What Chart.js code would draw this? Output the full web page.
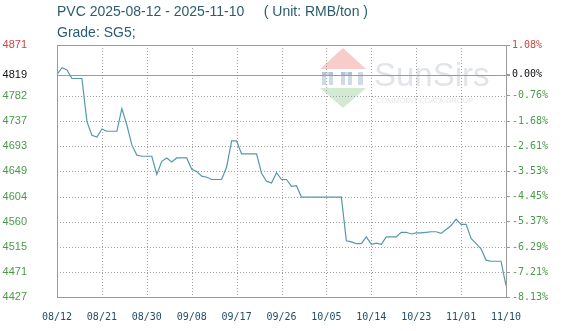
<!DOCTYPE html>
<html>
<head>
<meta charset="utf-8">
<script src="https://cdn.jsdelivr.net/npm/chart.js@4.4.1/dist/chart.umd.min.js"></script>
<style>
  html, body { margin: 0; padding: 0; background: #fff; }
  #wrap { position: relative; width: 572px; height: 331px; }
  .title { position: absolute; left: 57px; font-family: "Liberation Sans", Arial, sans-serif; font-size: 14px; color: #2b5d6e; white-space: pre; }
  #t1 { top: 3px; }
  #t2 { top: 24px; }
  canvas { position: absolute; left: 0; top: 0; }
</style>
</head>
<body>
<div id="wrap">
  <canvas id="chart" width="572" height="331"></canvas>
  <div class="title" id="t1">PVC 2025-08-12 - 2025-11-10     ( Unit: RMB/ton )</div>
  <div class="title" id="t2">Grade: SG5;</div>
</div>
<script>
// daily prices, 08/12 .. 11/10 (RMB/ton)
const prices = [
  4819, 4831, 4827, 4812, 4812, 4812, 4736, 4712, 4709, 4723,
  4719, 4719, 4719, 4759, 4730, 4695, 4677, 4675, 4675, 4675,
  4643, 4666, 4672, 4665, 4672, 4672, 4672, 4652, 4648, 4640,
  4638, 4634, 4634, 4634, 4656, 4702, 4702, 4679, 4679, 4679,
  4679, 4645, 4631, 4628, 4646, 4634, 4634, 4622, 4623, 4603,
  4603, 4603, 4603, 4603, 4603, 4603, 4603, 4603, 4526, 4524,
  4521, 4521, 4533, 4520, 4522, 4520, 4533, 4533, 4533, 4541,
  4541, 4538, 4540, 4540, 4541, 4542, 4542, 4539, 4546, 4553,
  4564, 4555, 4555, 4530, 4521, 4512, 4492, 4490, 4490, 4490,
  4447
];
const basePrice = 4819;
const yTicks = [4427, 4471, 4515, 4560, 4604, 4649, 4693, 4737, 4782, 4819, 4871];
const pctLabels = ['-8.13%', '-7.21%', '-6.29%', '-5.37%', '-4.45%', '-3.53%', '-2.61%', '-1.68%', '-0.76%', '0.00%', '1.08%'];
const xTickLabels = ['08/12', '08/21', '08/30', '09/08', '09/17', '09/26', '10/05', '10/14', '10/23', '11/01', '11/10'];

// one category per day
const labels = [];
const d0 = new Date(2025, 7, 12);
for (let i = 0; i < prices.length; i++) {
    const d = new Date(d0.getTime() + i * 86400000);
    labels.push(String(d.getMonth() + 1).padStart(2, '0') + '/' + String(d.getDate()).padStart(2, '0'));
}

function tickColor(v) {
    if (v > basePrice) return '#d04444';
    if (v === basePrice) return '#111';
    return '#4a9a4a';
}

// dotted grid lines, one pixel column/row at a time
function dottedV(ctx, x, y0, y1) {
    for (let y = Math.round(y0); y < y1; y += 3) ctx.fillRect(x, y, 1, 1);
}
function dottedH(ctx, y, x0, x1) {
    for (let x = Math.round(x0); x < x1; x += 3) ctx.fillRect(x, y, 1, 1);
}

const framePlugin = {
    id: 'frame',
    beforeDatasetsDraw(chart) {
        const ctx = chart.ctx, a = chart.chartArea;
        // watermark
        ctx.save();
        ctx.globalAlpha = 0.4;
        ctx.fillStyle = '#f08080';
        ctx.beginPath();
        ctx.moveTo(343, 48); ctx.lineTo(366, 69); ctx.lineTo(320, 69); ctx.closePath(); ctx.fill();
        ctx.fillStyle = '#90c890';
        ctx.beginPath();
        ctx.moveTo(320, 88); ctx.lineTo(366, 88); ctx.lineTo(343, 108); ctx.closePath(); ctx.fill();
        ctx.fillStyle = '#8aa0c0';
        [[322, 4], [329, 4], [341, 4], [348, 4], [358, 5]].forEach(function(b) {
            ctx.fillRect(b[0], 72, b[1], 13);
        });
        ctx.fillRect(322, 72, 11, 3);
        ctx.fillRect(341, 72, 11, 3);
        ctx.globalAlpha = 0.7;
        ctx.fillStyle = '#d4d9de';
        ctx.font = '33px "Liberation Sans", Arial, sans-serif';
        ctx.textBaseline = 'alphabetic';
        ctx.fillText('SunSirs', 374, 86);
        ctx.font = '7.5px "Liberation Sans", Arial, sans-serif';
        ctx.fillStyle = '#d8d8d8';
        ctx.fillText('COMMODITY DATA GROUP', 376, 103);
        ctx.restore();

        const xs = chart.scales.x, ys = chart.scales.y;
        ctx.save();
        ctx.fillStyle = '#a0a0a0';
        for (let i = 9; i < prices.length - 1; i += 9) {
            dottedV(ctx, Math.round(xs.getPixelForValue(i)), a.top, a.bottom);
        }
        yTicks.forEach(function(v) {
            if (v === basePrice || v === yTicks[0] || v === yTicks[yTicks.length - 1]) return;
            dottedH(ctx, Math.round(ys.getPixelForValue(v)), a.left, a.right);
        });
        ctx.restore();

        // baseline at the start price
        const y = ys.getPixelForValue(basePrice);
        ctx.save();
        ctx.strokeStyle = '#9a9a9a';
        ctx.lineWidth = 1;
        ctx.beginPath();
        ctx.moveTo(a.left, Math.round(y) + 0.5);
        ctx.lineTo(a.right + 4, Math.round(y) + 0.5);
        ctx.stroke();
        ctx.restore();
    },
    afterDraw(chart) {
        const ctx = chart.ctx, a = chart.chartArea;
        ctx.save();
        ctx.strokeStyle = '#9a9a9a';
        ctx.lineWidth = 1;
        ctx.strokeRect(Math.round(a.left) + 0.5, Math.round(a.top) + 0.5, Math.round(a.right - a.left), Math.round(a.bottom - a.top));
        ctx.restore();
    }
};

new Chart(document.getElementById('chart'), {
    type: 'line',
    data: {
        labels: labels,
        datasets: [{
            data: prices,
            borderColor: '#5498ae',
            borderWidth: 1.2,
            pointRadius: 0,
            tension: 0,
            fill: false,
            yAxisID: 'y'
        }]
    },
    options: {
        responsive: false,
        animation: false,
        layout: { padding: { top: 45, left: 0, right: 0, bottom: 0 } },
        plugins: { legend: { display: false }, tooltip: { enabled: false } },
        scales: {
            x: {
                ticks: {
                    autoSkip: false,
                    maxRotation: 0,
                    padding: 6,
                    color: '#1f4e6b',
                    font: { family: '"DejaVu Sans Mono", monospace', size: 10 },
                    callback: function(v, i) {
                        return i % 9 === 0 ? xTickLabels[i / 9] : null;
                    }
                },
                grid: { display: false },
                border: { display: false },
                afterFit: function(s) { s.height = 34; }
            },
            y: {
                position: 'left',
                min: 4427,
                max: 4871,
                afterBuildTicks: function(s) { s.ticks = yTicks.map(function(v) { return { value: v }; }); },
                ticks: {
                    padding: 22,
                    color: function(c) { return tickColor(c.tick.value); },
                    font: { family: '"Liberation Sans", Arial, sans-serif', size: 11 },
                    callback: function(v) { return String(v); }
                },
                grid: { display: false },
                border: { display: false },
                afterFit: function(s) { s.width = 57; }
            },
            y1: {
                position: 'right',
                min: 4427,
                max: 4871,
                afterBuildTicks: function(s) { s.ticks = yTicks.map(function(v) { return { value: v }; }); },
                ticks: {
                    padding: 2,
                    color: function(c) { return tickColor(c.tick.value); },
                    font: { family: '"DejaVu Sans Mono", monospace', size: 10 },
                    callback: function(v, i) { return pctLabels[i]; }
                },
                grid: { drawOnChartArea: false, color: '#9a9a9a', tickLength: 4 },
                border: { display: false },
                afterFit: function(s) { s.width = 66; }
            }
        }
    },
    plugins: [framePlugin]
});
</script>
</body>
</html>
